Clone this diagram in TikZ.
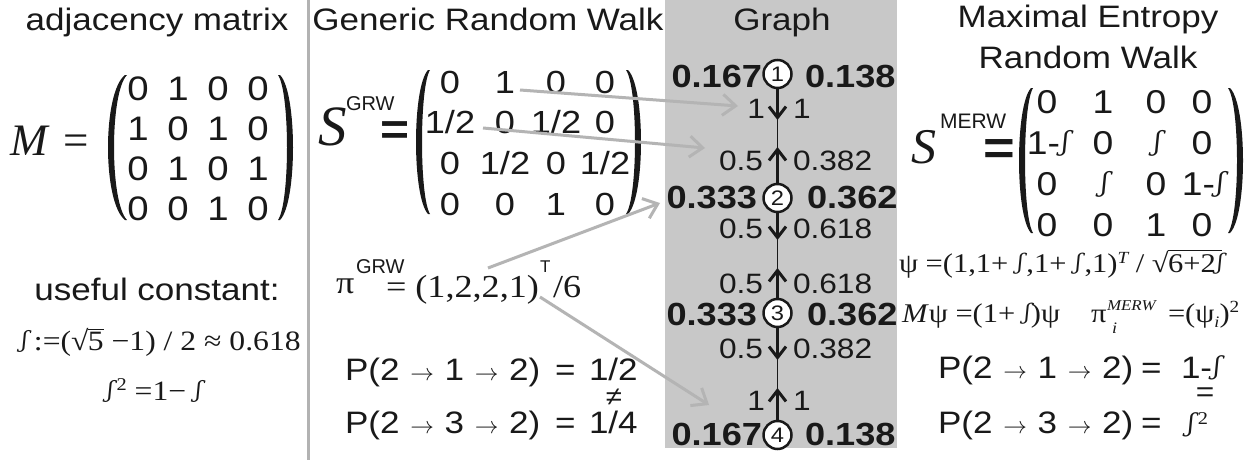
\documentclass[tikz,border=0pt]{standalone}
\usepackage{fontspec}
\usepackage{graphicx}
\setmainfont{Liberation Sans}[FakeStretch=1.13]
\newfontfamily\tmsfont{Liberation Serif}[FakeStretch=1.13]
\newfontfamily\tmsplain{Liberation Serif}
\newfontfamily\sansplain{Liberation Sans}
\newfontfamily\fsymfont{DejaVu Serif}[FakeSlant=0.25]
\usetikzlibrary{arrows.meta}
\definecolor{graybg}{RGB}{200,200,200}
\definecolor{sepgray}{RGB}{178,178,178}
\definecolor{arrgray}{RGB}{180,180,180}
\definecolor{ink}{RGB}{25,25,25}
\newcommand\fsz[1]{\fontsize{#1}{#1}\selectfont}
\newcommand\phig{\raisebox{0.1em}{\scalebox{0.8}{\fsymfont ʃ}}}
\newcommand\rarr{\kern1pt\scalebox{0.95}{$\rightarrow$}\kern1pt}
\newcommand\rootof[1]{{\tmsfont √}\kern-0.6pt\vbox{\hrule height 1.1pt\kern 1.6pt\hbox{#1}}}
% #1 end x (outer), #2 middle x (outer), #3 top y, #4 bottom y, #5 middle x (inner), #6 end x (inner)
\newcommand\drawparen[6]{%
  \fill[ink] (#1,#3) .. controls ({(4*#2-#1)/3},{#3+0.12*(#4-#3)}) and ({(4*#2-#1)/3},{#4-0.12*(#4-#3)}) .. (#1,#4)
    -- (#6,#4) .. controls ({(4*#5-#6)/3},{#4-0.12*(#4-#3)}) and ({(4*#5-#6)/3},{#3+0.12*(#4-#3)}) .. (#6,#3) -- cycle;}
\tikzset{
  txt/.style={inner sep=0pt, outer sep=0pt, text=ink},
  title/.style={txt, anchor=base, font=\fsz{31}},
  ment/.style={txt, anchor=base, font=\fsz{33}},
  bl/.style={txt, font=\fsz{32}\bfseries},
  el/.style={txt, font=\fsz{28}},
  pl/.style={txt, anchor=base west, font=\fsz{31}},
  gnode/.style={circle, draw=ink, fill=white, line width=2.5pt, minimum size=28pt, inner sep=0pt, font=\fsz{21}, text=ink},
  gline/.style={draw=ink, line width=1.6pt},
  garr/.style={draw=ink, line width=3pt, -{Straight Barb[length=11pt,width=17pt]}},
  grayarr/.style={draw=arrgray, line width=3pt, -{Straight Barb[length=13pt,width=21pt]}},
  serf/.style={txt, font=\fsz{28}\tmsfont},
}
\begin{document}
\begin{tikzpicture}[x=1pt,y=-1pt]
\useasboundingbox (0,0) rectangle (1260,460);
\fill[white] (0,0) rectangle (1260,460);
\fill[graybg] (665,0) rectangle (897,448);
\draw[sepgray, line width=3pt] (308,0) -- (308,460);

% titles
\node[title] (tadj) at (157,31) {adjacency matrix};
\node[title] (tgrw) at (488,31) {Generic Random Walk};
\node[title] (tgraph) at (782,31) {Graph};
\node[title] (tmerw1) at (1088,28) {Maximal Entropy};
\node[title] (tmerw2) at (1088,68) {Random Walk};

% adjacency matrix
\node[txt, anchor=base west, font=\fsz{45}\tmsplain\itshape] (Mlab) at (10,155) {M};
\node[txt, anchor=base west, font=\fsz{45}\tmsplain] (Meq) at (63,155) {=};
\foreach \v [count=\i from 0] in {0,1,0,0,1,0,1,0,0,1,0,1,0,0,1,0} {
  \pgfmathtruncatemacro\r{int(\i/4)}
  \pgfmathtruncatemacro\c{mod(\i,4)}
  \node[ment, font=\fsz{34}] (m\r\c) at ({138+40*\c},{100+40*\r}) {\v};
}
\drawparen{125}{108}{75}{220}{114}{127}
\drawparen{280}{293}{75}{220}{287}{278}

% useful constant
\node[title] (uc) at (157,300) {useful constant:};
\node[serf, anchor=base west] (phidef) at (20,350) {\phig\ :=(\rootof{5} −1) / 2 ≈ 0.618};
\node[serf, anchor=base] (phisq) at (153,400) {\phig\,\raisebox{10pt}{\fsz{18}\tmsfont 2} =1− \phig};

% GRW
\node[txt, anchor=base west, font=\fsz{57}\tmsplain\itshape] (Sg) at (318,145) {S};
\node[txt, anchor=base west, font=\fsz{20}\sansplain] (Sgsup) at (346,110) {GRW};
\node[txt, anchor=base, font=\fsz{44}\bfseries] (Sgeq) at (395,144) {=};
\foreach \v [count=\i from 0] in {0,1,0,0,1/2,0,1/2,0,0,1/2,0,1/2,0,0,1,0} {
  \pgfmathtruncatemacro\r{int(\i/4)}
  \pgfmathtruncatemacro\c{mod(\i,4)}
  \pgfmathsetmacro\cx{{450,505,556,605}[\c]}
  \node[ment, font=\fsz{32}] (g\r\c) at ({\cx},{93+40.7*\r}) {\v};
}
\drawparen{428}{416}{70}{214}{422}{430}
\drawparen{628}{641}{70}{214}{635}{626}

\node[txt, anchor=base west, font=\fsz{32}\tmsfont] (pig) at (336,293) {π};
\node[txt, anchor=base west, font=\fsz{20}\sansplain] (pigsup) at (356,273) {GRW};
\node[txt, anchor=base west, font=\fsz{32}\tmsfont] (pigeq) at (386,297) {= (1,2,2,1)};
\node[txt, anchor=base west, font=\fsz{17}\sansplain] (pigT) at (540,272) {T};
\node[txt, anchor=base west, font=\fsz{32}\tmsfont] (pigdiv) at (553,297) {/6};

\node[pl] (pg1) at (345,380) {P(2 \rarr\ 1 \rarr\ 2)};
\node[pl] (pg1eq) at (555,380) {=};
\node[pl] (pg1v) at (589,380) {1/2};
\node[txt, font=\fsz{26}] (pgne) at (614,397) {≠};
\node[pl] (pg2) at (345,433) {P(2 \rarr\ 3 \rarr\ 2)};
\node[pl] (pg2eq) at (555,433) {=};
\node[pl] (pg2v) at (589,433) {1/4};

% graph
\node[gnode] (n1) at (777.5,74) {1};
\node[gnode] (n2) at (777.5,198) {2};
\node[gnode] (n3) at (777.5,313) {3};
\node[gnode] (n4) at (777.5,435) {4};
\coordinate (t12) at (777.5,120);
\coordinate (t21) at (777.5,147);
\coordinate (t23) at (777.5,240);
\coordinate (t32) at (777.5,268);
\coordinate (t34) at (777.5,360);
\coordinate (t43) at (777.5,388);
\draw[gline] (n1) -- (n2);
\draw[gline] (n2) -- (n3);
\draw[gline] (n3) -- (n4);
\draw[garr] (n1) -- (t12);
\draw[garr] (n2) -- (t21);
\draw[garr] (n2) -- (t23);
\draw[garr] (n3) -- (t32);
\draw[garr] (n3) -- (t34);
\draw[garr] (n4) -- (t43);

\node[bl, anchor=base east] (l1) at (762,88) {0.167};
\node[bl, anchor=base west] (r1) at (805,88) {0.138};
\node[bl, anchor=base east] (l2) at (757,208) {0.333};
\node[bl, anchor=base west] (r2) at (807,208) {0.362};
\node[bl, anchor=base east] (l3) at (757,325) {0.333};
\node[bl, anchor=base west] (r3) at (807,325) {0.362};
\node[bl, anchor=base east] (l4) at (762,445) {0.167};
\node[bl, anchor=base west] (r4) at (805,445) {0.138};

\node[el, anchor=base east] (e1l) at (765,118) {1};
\node[el, anchor=base west] (e1r) at (793,118) {1};
\node[el, anchor=base east] (e2l) at (763,170) {0.5};
\node[el, anchor=base west] (e2r) at (793,170) {0.382};
\node[el, anchor=base east] (e3l) at (763,238) {0.5};
\node[el, anchor=base west] (e3r) at (793,238) {0.618};
\node[el, anchor=base east] (e4l) at (763,293) {0.5};
\node[el, anchor=base west] (e4r) at (793,293) {0.618};
\node[el, anchor=base east] (e5l) at (763,358) {0.5};
\node[el, anchor=base west] (e5r) at (793,358) {0.382};
\node[el, anchor=base east] (e6l) at (765,410) {1};
\node[el, anchor=base west] (e6r) at (793,410) {1};

% MERW
\node[txt, anchor=base west, font=\fsz{50}\tmsplain\itshape] (Sm) at (911,163) {S};
\node[txt, anchor=base west, font=\fsz{21}\sansplain] (Smsup) at (940,128) {MERW};
\node[txt, anchor=base, font=\fsz{48}\bfseries] (Smeq) at (999,164) {=};
\foreach \v [count=\i from 0] in {0,1,0,0,{1-\phig},0,\phig,0,0,\phig,0,{1-\phig},0,0,1,0} {
  \pgfmathtruncatemacro\r{int(\i/4)}
  \pgfmathtruncatemacro\c{mod(\i,4)}
  \pgfmathsetmacro\cx{{1047,1103,1156,1202}[\c]}
  \node[ment, font=\fsz{33}] (s\r\c) at ({\cx},{113+41*\r}) {\v};
}
\drawparen{1031}{1019}{88}{233}{1025}{1033}
\drawparen{1230}{1243}{88}{233}{1237}{1228}

\node[serf, font=\fsz{27}\tmsfont, anchor=base west] (psi) at (899,272) {ψ =(1,1+ \phig\,,1+ \phig\,,1)\raisebox{9pt}{\fsz{17}\tmsfont\itshape T} / \rootof{6+2\phig}};
\node[serf, font=\fsz{27}\tmsfont, anchor=base west] (mpsi) at (902,322) {\textit{M}ψ =(1+ \phig\kern2pt)ψ};
\node[serf, font=\fsz{27}\tmsfont, anchor=base west] (piM) at (1091,322) {π};
\node[txt, anchor=base west, font=\fsz{15}\tmsfont\itshape] (piMsup) at (1107,310) {MERW};
\node[txt, anchor=base west, font=\fsz{16}\tmsfont\itshape] (piMsub) at (1112,333) {i};
\node[serf, font=\fsz{27}\tmsfont, anchor=base west] (piMeq) at (1168,322) {=(ψ\raisebox{-5pt}{\fsz{16}\tmsfont\itshape i})\raisebox{10pt}{\fsz{17}\tmsfont 2}};

\node[pl] (pm1) at (938,378) {P(2 \rarr\ 1 \rarr\ 2)};
\node[pl] (pm1eq) at (1141,378) {=};
\node[pl] (pm1v) at (1181,378) {1-\phig};
\node[txt, font=\fsz{28}] (pmeq) at (1205,395) {=};
\node[pl] (pm2) at (938,433) {P(2 \rarr\ 3 \rarr\ 2)};
\node[pl] (pm2eq) at (1141,433) {=};
\node[pl] (pm2v) at (1186,435) {\phig\,\raisebox{11pt}{\fsz{18}\tmsfont 2}};

% gray arrows
\coordinate (a1s) at (520,90);
\coordinate (a1e) at (738,106);
\coordinate (a2s) at (483,128);
\coordinate (a2e) at (705,148);
\coordinate (a3s) at (488,268);
\coordinate (a3e) at (660,203);
\coordinate (a4s) at (540,297);
\coordinate (a4e) at (709,405);
\draw[grayarr] (a1s) -- (a1e);
\draw[grayarr] (a2s) -- (a2e);
\draw[grayarr] (a3s) -- (a3e);
\draw[grayarr] (a4s) -- (a4e);
\end{tikzpicture}
\end{document}
